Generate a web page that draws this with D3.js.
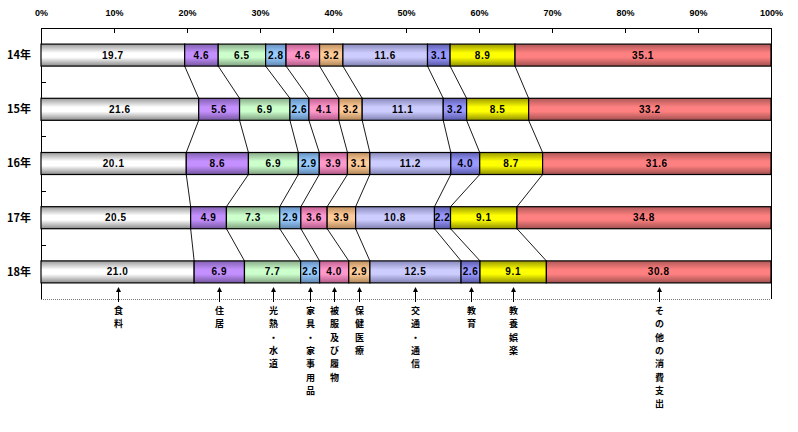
<!DOCTYPE html>
<html>
<head>
<meta charset="utf-8">
<script src="https://cdn.jsdelivr.net/npm/d3@7"></script>
<style>
  html, body { margin: 0; padding: 0; background: #fff; }
  svg { display: block; }
  text { font-family: "Liberation Sans", Arial, sans-serif; font-weight: bold; fill: #000; }
  .jp { font-family: "Noto Sans CJK JP", "Noto Sans", sans-serif; font-weight: bold; }
</style>
</head>
<body>
<svg id="chart" width="798" height="432"></svg>
<script>
const years = ["14年", "15年", "16年", "17年", "18年"];
const categories = ["食料", "住居", "光熱・水道", "家具・家事用品", "被服及び履物", "保健医療", "交通・通信", "教育", "教養娯楽", "その他の消費支出"];
const v14 = [19.7, 4.6, 6.5, 2.8, 4.6, 3.2, 11.6, 3.1, 8.9, 35.1];
const v15 = [21.6, 5.6, 6.9, 2.6, 4.1, 3.2, 11.1, 3.2, 8.5, 33.2];
const v16 = [20.1, 8.6, 6.9, 2.9, 3.9, 3.1, 11.2, 4.0, 8.7, 31.6];
const v17 = [20.5, 4.9, 7.3, 2.9, 3.6, 3.9, 10.8, 2.2, 9.1, 34.8];
const v18 = [21.0, 6.9, 7.7, 2.6, 4.0, 2.9, 12.5, 2.6, 9.1, 30.8];
const seriesValues = [v14, v15, v16, v17, v18];
const tickValues = [0, 10, 20, 30, 40, 50, 60, 70, 80, 90, 100];
const tickLabels = ["0%", "10%", "20%", "30%", "40%", "50%", "60%", "70%", "80%", "90%", "100%"];

const colors = [
  ["#9a9a9a", "#ffffff", "#8a8a8a"],
  ["#8060b0", "#c490ff", "#74559e"],
  ["#88aa88", "#ccffcc", "#7f9f7f"],
  ["#6690c0", "#99ccff", "#5f85b0"],
  ["#c06090", "#ff99cc", "#b05a88"],
  ["#c09060", "#ffcc99", "#b08558"],
  ["#8888bb", "#ccccff", "#7f7fb0"],
  ["#5f5fb0", "#9999ff", "#5858a6"],
  ["#9a9a00", "#ffff00", "#8f8f00"],
  ["#b05858", "#ff8080", "#a05050"]
];

const svg = d3.select("#chart");
const pLeft = 41, pRight = 771, pTop = 28, pBottom = 299;

const x = d3.scaleLinear().domain([0, 100]).range([pLeft, pRight]);
const y = d3.scaleBand().domain(years).range([pTop, pBottom]).paddingInner(0.594).paddingOuter(0.297);

// gradients
const defs = svg.append("defs");
colors.forEach((c, i) => {
  const g = defs.append("linearGradient").attr("id", "g" + i)
    .attr("x1", 0).attr("y1", 0).attr("x2", 0).attr("y2", 1);
  g.append("stop").attr("offset", "0%").attr("stop-color", c[0]);
  g.append("stop").attr("offset", "40%").attr("stop-color", c[1]);
  g.append("stop").attr("offset", "60%").attr("stop-color", c[1]);
  g.append("stop").attr("offset", "100%").attr("stop-color", c[2]);
});

// normalized stacked data
const stacked = seriesValues.map((vals, ri) => {
  const total = d3.sum(vals);
  let acc = 0;
  return vals.map((v, ci) => {
    const s = acc / total * 100;
    acc += v;
    const e = acc / total * 100;
    return { year: years[ri], cat: ci, value: v, start: s, end: e };
  });
});

// top axis
const topAxis = d3.axisTop(x).tickValues(tickValues).tickSize(-5).tickFormat((d, i) => tickLabels[i]);
const ta = svg.append("g").attr("transform", `translate(0,${pTop})`).call(topAxis);
ta.select(".domain").attr("stroke", "#000").attr("d", `M${pLeft},0.5H${pRight}`);
ta.selectAll(".tick line").attr("stroke", "#000");
ta.selectAll(".tick text").attr("y", -15).attr("dy", "0.32em").style("font-size", "9px")
  .style("font-family", "'Liberation Sans', Arial, sans-serif").style("font-weight", "bold");

// left axis line, right border and ticks at band boundaries
svg.append("line").attr("x1", pLeft + 0.5).attr("x2", pLeft + 0.5).attr("y1", pTop).attr("y2", pBottom)
  .attr("stroke", "#000");
svg.append("line").attr("x1", pRight + 0.5).attr("x2", pRight + 0.5).attr("y1", pTop).attr("y2", pBottom)
  .attr("stroke", "#000");
const step = y.step();
d3.range(1, years.length).forEach(k => {
  const yy = Math.round(pTop + k * step) + 0.5;
  svg.append("line").attr("x1", pLeft).attr("x2", pLeft + 5).attr("y1", yy).attr("y2", yy).attr("stroke", "#000");
});
// bottom dotted line
svg.append("line").attr("x1", pLeft).attr("x2", pRight).attr("y1", pBottom + 0.5).attr("y2", pBottom + 0.5)
  .attr("stroke", "#777").attr("stroke-dasharray", "1,1");

// year labels
svg.selectAll("text.year").data(years).enter().append("text")
  .attr("class", "year jp")
  .attr("x", 31).attr("y", d => y(d) + y.bandwidth() / 2)
  .attr("text-anchor", "end").attr("dy", "0.35em")
  .style("font-size", "11px").text(d => d);

// connector lines
for (let r = 0; r < years.length - 1; r++) {
  for (let c = 0; c < categories.length - 1; c++) {
    svg.append("line")
      .attr("x1", x(stacked[r][c].end)).attr("y1", y(years[r]) + y.bandwidth())
      .attr("x2", x(stacked[r + 1][c].end)).attr("y2", y(years[r + 1]))
      .attr("stroke", "#000").attr("stroke-width", 0.9);
  }
}

// bars
const rows = svg.selectAll("g.row").data(stacked).enter().append("g").attr("class", "row");
rows.selectAll("rect").data(d => d).enter().append("rect")
  .attr("x", d => x(d.start)).attr("y", d => y(d.year))
  .attr("width", d => x(d.end) - x(d.start)).attr("height", y.bandwidth())
  .attr("fill", d => `url(#g${d.cat})`).attr("stroke", "#000").attr("stroke-width", 1.2);
rows.selectAll("text").data(d => d).enter().append("text")
  .attr("x", d => (x(d.start) + x(d.end)) / 2).attr("y", d => y(d.year) + y.bandwidth() / 2)
  .attr("text-anchor", "middle").attr("dy", "0.35em")
  .style("font-size", "10px").style("letter-spacing", "0.6px")
  .text(d => d.value.toFixed(1));

// bottom arrows and vertical category labels at last row's segments
const last = stacked[stacked.length - 1];
last.forEach((d, i) => {
  const cx = Math.round((x(d.start) + x(d.end)) / 2) + 0.5;
  svg.append("line").attr("x1", cx).attr("x2", cx).attr("y1", 302).attr("y2", 290)
    .attr("stroke", "#000").attr("stroke-width", 1);
  svg.append("path").attr("d", `M${cx - 2.5},${292} L${cx},${287} L${cx + 2.5},${292} Z`).attr("fill", "#000");
  const chars = Array.from(categories[i]);
  const g = svg.append("g").attr("class", "vlabel");
  chars.forEach((ch, k) => {
    g.append("text").attr("class", "jp").style("font-size", "9px").attr("text-anchor", "middle")
      .attr("x", cx).attr("y", 311 + k * 13.3).attr("dy", "0.35em").text(ch);
  });
});
</script>
</body>
</html>
